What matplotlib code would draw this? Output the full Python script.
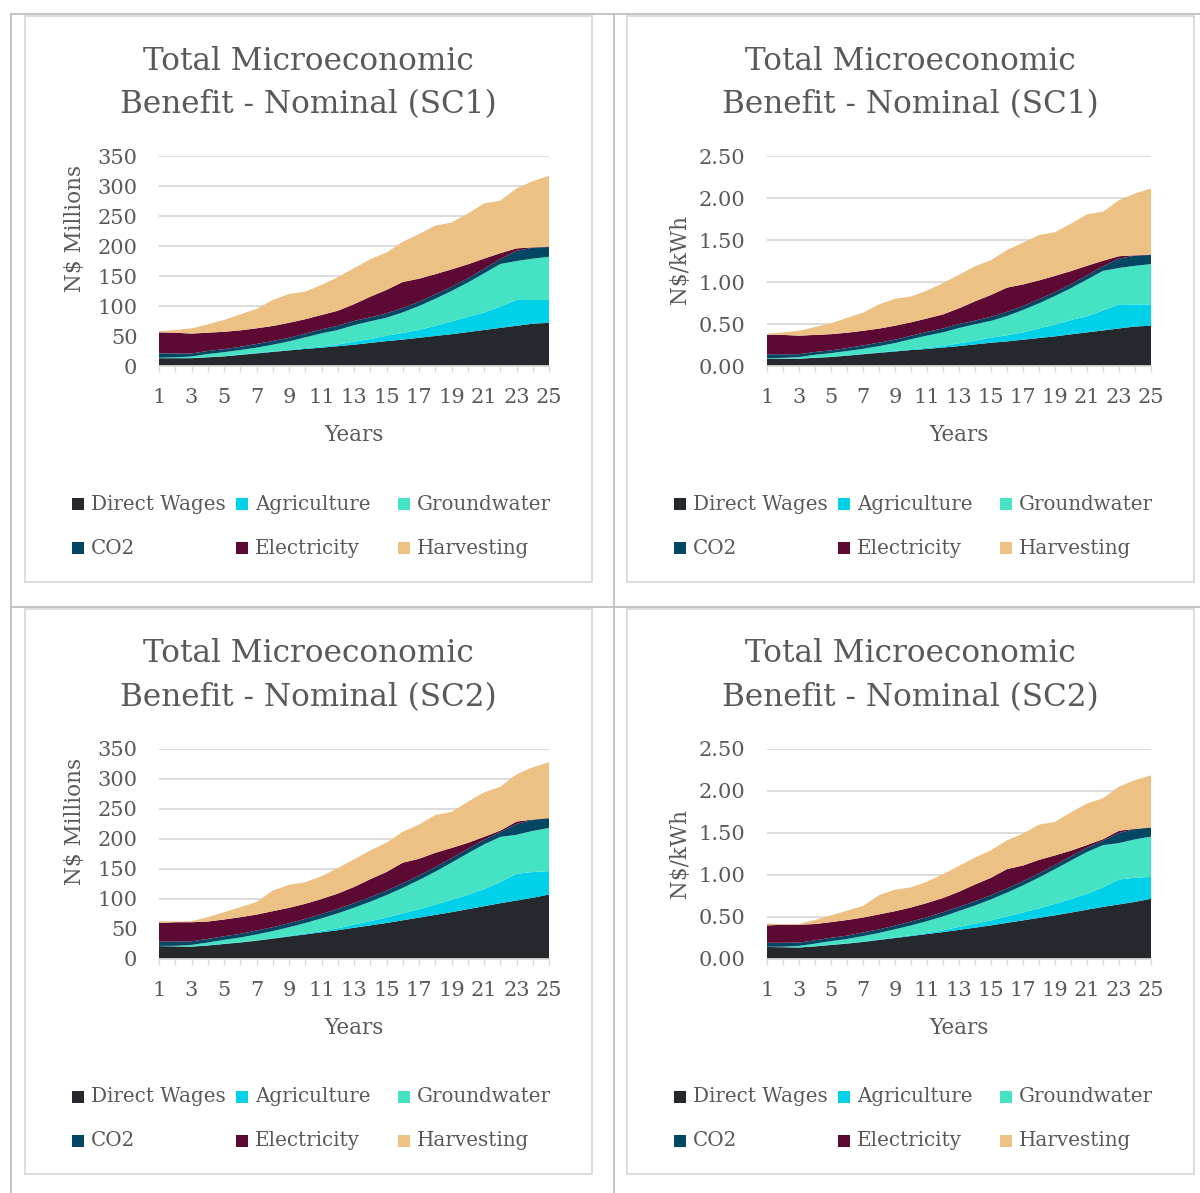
import matplotlib

matplotlib.use("Agg")
import matplotlib.pyplot as plt
from matplotlib.lines import Line2D
from matplotlib.patches import Rectangle

plt.rcParams["font.family"] = ["DejaVu Serif"]

W, H = 1200, 1193
TEXT = "#595959"
LIGHT = "#d9d9d9"
TABLE = "#bfbfbf"

years = list(range(1, 26))
series_names = ["Direct Wages", "Agriculture", "Groundwater", "CO2", "Electricity", "Harvesting"]
series_colors = ["#25282d", "#00d0e8", "#45e3c4", "#014663", "#5c0a33", "#edc184"]

# Scenario 1, N$ millions
sc1_wages = [13, 13, 13, 14.5, 16, 18.5, 21, 23.5, 26, 28.5, 30.5, 33, 35.5, 38.5, 41.5, 44, 47, 50, 53, 56.5, 60, 63.5, 67, 70.5, 72]
sc1_agri = [0.3, 0.3, 0.3, 0.4, 0.5, 0.6, 0.7, 0.8, 1.0, 1.5, 2, 3, 5, 6.5, 9, 11, 13, 17, 21, 25.5, 29, 35.5, 43, 39.5, 38]
sc1_ground = [0.5, 1.2, 2.5, 5.1, 6.5, 7.6, 8.8, 11.2, 14, 17.8, 21.9, 24, 27.5, 29.5, 30, 34.4, 40, 45, 51, 57, 65.4, 71, 65, 69, 72]
sc1_co2 = [7.2, 6.5, 5.2, 5, 5, 5.3, 6.2, 6.2, 6, 6.2, 6.6, 7, 7, 6.5, 7.3, 7.3, 7, 7.4, 7, 7, 7.6, 8, 17, 18, 16.3]
sc1_elec = [35, 34.5, 33, 30.5, 29, 27.4, 26.1, 25, 25, 24, 24, 25, 28, 34.5, 39, 43.3, 38.5, 33.6, 29, 23.4, 17, 10, 4, 0.8, 0.7]
sc1_harvest = [1.8, 4.5, 8.8, 13.9, 19.7, 26.6, 32.2, 43.3, 48, 46, 50, 56, 60, 62.5, 62.3, 67, 74.5, 81, 78, 84.6, 92, 87.6, 100, 110.2, 118]

# Scenario 1, N$/kWh
sc1_wages_kwh = [0.087, 0.087, 0.087, 0.097, 0.107, 0.123, 0.14, 0.157, 0.173, 0.19, 0.203, 0.22, 0.237, 0.257, 0.277, 0.293, 0.313, 0.333, 0.353, 0.377, 0.4, 0.423, 0.447, 0.47, 0.48]
sc1_agri_kwh = [0.002, 0.002, 0.002, 0.003, 0.003, 0.004, 0.005, 0.005, 0.007, 0.01, 0.013, 0.02, 0.033, 0.043, 0.06, 0.073, 0.087, 0.113, 0.14, 0.17, 0.193, 0.237, 0.287, 0.263, 0.253]
sc1_ground_kwh = [0.003, 0.008, 0.017, 0.034, 0.043, 0.051, 0.059, 0.075, 0.093, 0.119, 0.146, 0.16, 0.183, 0.197, 0.2, 0.229, 0.267, 0.3, 0.34, 0.38, 0.436, 0.473, 0.433, 0.46, 0.48]
sc1_co2_kwh = [0.048, 0.043, 0.035, 0.033, 0.033, 0.035, 0.041, 0.041, 0.04, 0.041, 0.044, 0.047, 0.047, 0.043, 0.049, 0.049, 0.047, 0.049, 0.047, 0.047, 0.051, 0.053, 0.113, 0.12, 0.109]
sc1_elec_kwh = [0.233, 0.23, 0.22, 0.203, 0.193, 0.183, 0.174, 0.167, 0.167, 0.16, 0.16, 0.167, 0.187, 0.23, 0.26, 0.289, 0.257, 0.224, 0.193, 0.156, 0.113, 0.067, 0.027, 0.005, 0.005]
sc1_harvest_kwh = [0.012, 0.03, 0.059, 0.093, 0.131, 0.177, 0.215, 0.289, 0.32, 0.307, 0.333, 0.373, 0.4, 0.417, 0.415, 0.447, 0.497, 0.54, 0.52, 0.564, 0.613, 0.584, 0.667, 0.735, 0.787]

# Scenario 2, N$ millions
sc2_wages = [21.5, 21, 20.6, 22.5, 25, 27.5, 30.5, 34, 37.5, 41, 44.5, 48, 52, 56, 60, 64.5, 69, 73.5, 78, 83, 88, 93, 97.5, 102, 107.5]
sc2_agri = [0.1, 0.2, 0.2, 0.3, 0.4, 0.5, 0.7, 0.8, 1, 1.5, 2, 3, 5.5, 7, 9, 11.5, 14, 17, 20.5, 24, 28.5, 35, 44.5, 43, 39]
sc2_ground = [0.3, 0.8, 2.7, 4.6, 6.5, 7.8, 9.7, 11.7, 14.5, 17.4, 21.2, 25.1, 28, 32.5, 37.5, 42.5, 48.5, 55, 62, 69, 74.5, 75.5, 65, 68.5, 72]
sc2_co2 = [7, 7, 6, 6, 6, 6, 6.5, 6.5, 6.6, 7, 7, 7.5, 7.5, 7.5, 7.5, 7.5, 7.5, 7.5, 7.5, 7.5, 7.5, 8, 18, 18.5, 16]
sc2_elec = [31.1, 32.3, 31.8, 29, 27.9, 27.9, 26.6, 26.7, 25.7, 25.1, 25.3, 25.4, 27, 30, 31, 34.5, 28, 24, 17, 10, 5, 2.5, 4, 0.5, 0.5]
sc2_harvest = [3.4, 1.1, 1.7, 7.3, 12.2, 16.7, 20.8, 34.3, 38.4, 36, 38, 42.6, 46, 48, 49, 51.5, 57, 63, 60, 68.5, 74.1, 73, 78.7, 86.9, 92.8]

# Scenario 2, N$/kWh
sc2_wages_kwh = [0.143, 0.14, 0.137, 0.15, 0.167, 0.183, 0.203, 0.227, 0.25, 0.273, 0.297, 0.32, 0.347, 0.373, 0.4, 0.43, 0.46, 0.49, 0.52, 0.553, 0.587, 0.62, 0.65, 0.68, 0.717]
sc2_agri_kwh = [0.001, 0.001, 0.001, 0.002, 0.003, 0.003, 0.005, 0.005, 0.007, 0.01, 0.013, 0.02, 0.037, 0.047, 0.06, 0.077, 0.093, 0.113, 0.137, 0.16, 0.19, 0.233, 0.297, 0.287, 0.26]
sc2_ground_kwh = [0.002, 0.005, 0.018, 0.031, 0.043, 0.052, 0.065, 0.078, 0.097, 0.116, 0.141, 0.167, 0.187, 0.217, 0.25, 0.283, 0.323, 0.367, 0.413, 0.46, 0.497, 0.503, 0.433, 0.457, 0.48]
sc2_co2_kwh = [0.047, 0.047, 0.04, 0.04, 0.04, 0.04, 0.043, 0.043, 0.044, 0.047, 0.047, 0.05, 0.05, 0.05, 0.05, 0.05, 0.05, 0.05, 0.05, 0.05, 0.05, 0.053, 0.12, 0.123, 0.107]
sc2_elec_kwh = [0.207, 0.215, 0.212, 0.193, 0.186, 0.186, 0.177, 0.178, 0.171, 0.167, 0.169, 0.169, 0.18, 0.2, 0.207, 0.23, 0.187, 0.16, 0.113, 0.067, 0.033, 0.017, 0.027, 0.003, 0.003]
sc2_harvest_kwh = [0.023, 0.007, 0.011, 0.049, 0.081, 0.111, 0.139, 0.229, 0.256, 0.24, 0.253, 0.284, 0.307, 0.32, 0.327, 0.343, 0.38, 0.42, 0.4, 0.457, 0.494, 0.487, 0.525, 0.579, 0.619]


def fx(x):
    return x / W


def fy(y):
    return 1 - y / H


def draw_panel(fig, ox, oy, height, scenario, ylabel, ymax, ystep, yfmt, values, plot_left, ylabel_x, ylabel_y):
    """One chart box: frame, title, stacked areas, axis titles and legend."""
    fig.add_artist(Rectangle((fx(ox), fy(oy + height)), 567 / W, height / H,
                             transform=fig.transFigure, fill=False, ec=LIGHT, lw=1.3))
    cx = ox + 283.5
    fig.text(fx(cx), fy(oy + 45), "Total Microeconomic", ha="center", va="center", fontsize=22.4, color=TEXT)
    fig.text(fx(cx), fy(oy + 89), f"Benefit - Nominal ({scenario})", ha="center", va="center", fontsize=22.4, color=TEXT)

    ax = fig.add_axes([fx(ox + plot_left), fy(oy + 350), (524 - plot_left) / W, 210 / H])
    ax.stackplot(years, *values, colors=series_colors, lw=0)
    ax.set_xlim(1, 25)
    ax.set_ylim(0, ymax)

    yticks = [i * ystep for i in range(int(round(ymax / ystep)) + 1)]
    ax.set_yticks(yticks)
    ax.set_yticklabels([yfmt.format(v) for v in yticks])
    ax.set_xticks(years)
    ax.set_xticklabels([str(y) if y % 2 else "" for y in years])
    ax.tick_params(axis="y", length=0, pad=15.5, labelsize=15, labelcolor=TEXT)
    ax.tick_params(axis="x", length=4.5, width=1, color=LIGHT, pad=11, labelsize=15, labelcolor=TEXT)
    ax.grid(axis="y", color=LIGHT, lw=1.3)
    ax.set_axisbelow(True)
    for side in ("top", "right", "left"):
        ax.spines[side].set_visible(False)
    ax.spines["bottom"].set_color(LIGHT)
    ax.spines["bottom"].set_linewidth(1.3)
    ax.spines["bottom"].set_zorder(5)

    fig.text(fx(ox + (plot_left + 524) / 2), fy(oy + 419), "Years", ha="center", va="center",
             fontsize=15.5, color=TEXT)
    fig.text(fx(ox + ylabel_x), fy(oy + ylabel_y), ylabel, ha="center", va="center", rotation=90,
             fontsize=15.5, color=TEXT)

    col_x = [47, 211, 373]
    row_y = [488, 532]
    for i, (name, color) in enumerate(zip(series_names, series_colors)):
        mx = ox + col_x[i % 3]
        my = oy + row_y[i // 3]
        fig.add_artist(Rectangle((fx(mx), fy(my + 6)), 12 / W, 12 / H, transform=fig.transFigure,
                                 fc=color, ec="none"))
        fig.text(fx(mx + 19), fy(my), name, ha="left", va="center", fontsize=14.3, color=TEXT)


fig = plt.figure(figsize=(W / 100, H / 100), dpi=100)

# table rules around the four chart boxes
for x in (11, 614):
    fig.add_artist(Line2D([fx(x), fx(x)], [fy(14), 0], transform=fig.transFigure, color=TABLE, lw=1.3))
for y in (14, 607):
    fig.add_artist(Line2D([fx(11), 1], [fy(y), fy(y)], transform=fig.transFigure, color=TABLE, lw=1.3))

sc1_m = [sc1_wages, sc1_agri, sc1_ground, sc1_co2, sc1_elec, sc1_harvest]
sc1_k = [sc1_wages_kwh, sc1_agri_kwh, sc1_ground_kwh, sc1_co2_kwh, sc1_elec_kwh, sc1_harvest_kwh]
sc2_m = [sc2_wages, sc2_agri, sc2_ground, sc2_co2, sc2_elec, sc2_harvest]
sc2_k = [sc2_wages_kwh, sc2_agri_kwh, sc2_ground_kwh, sc2_co2_kwh, sc2_elec_kwh, sc2_harvest_kwh]

draw_panel(fig, 25, 16, 566, "SC1", "N$ Millions", 350, 50, "{:.0f}", sc1_m, 134, 50, 212)
draw_panel(fig, 627, 16, 566, "SC1", "N$/kWh", 2.5, 0.5, "{:.2f}", sc1_k, 140, 53, 244)
draw_panel(fig, 25, 609, 565, "SC2", "N$ Millions", 350, 50, "{:.0f}", sc2_m, 134, 50, 212)
draw_panel(fig, 627, 609, 565, "SC2", "N$/kWh", 2.5, 0.5, "{:.2f}", sc2_k, 140, 53, 244)

fig.savefig("out.png", dpi=100, facecolor="white")
